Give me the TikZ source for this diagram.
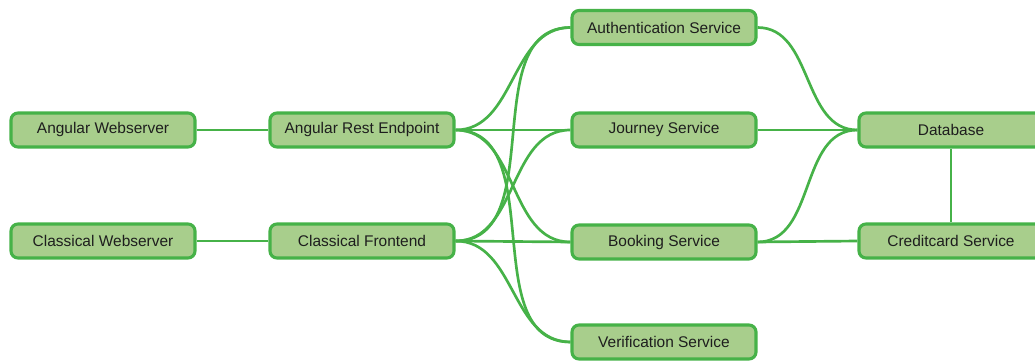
\documentclass[tikz,border=0pt]{standalone}
\usepackage{fontspec}
\setmainfont{Liberation Sans}
\definecolor{boxfill}{RGB}{168,206,140}
\definecolor{boxline}{RGB}{70,178,72}
\definecolor{txt}{RGB}{30,30,30}
\tikzset{
  svc/.style={draw=boxline, fill=boxfill, line width=2.2pt, rounded corners=5pt,
    minimum width=4.6cm, minimum height=0.85cm, inner sep=0pt,
    font=\fontsize{11pt}{13pt}\selectfont, text=txt},
  link/.style={draw=boxline, line width=1.9pt},
}
\begin{document}
\begin{tikzpicture}[x=0.025cm, y=-0.025cm]
\useasboundingbox (0,0) rectangle (1035,361);
\node[svc] (aw) at (103,130) {Angular Webserver};
\node[svc] (are) at (362,130) {Angular Rest Endpoint};
\node[svc] (cw) at (103,241) {Classical Webserver};
\node[svc] (cf) at (362,241) {Classical Frontend};
\node[svc] (auth) at (664,27.5) {Authentication Service};
\node[svc] (jour) at (664,130) {Journey Service};
\node[svc] (book) at (664,242) {Booking Service};
\node[svc] (ver) at (664,342) {Verification Service};
\node[svc] (db) at (951,130) {Database};
\node[svc] (cc) at (951,241) {Creditcard Service};
\draw[link] (aw.east) -- (are.west);
\draw[link] (cw.east) -- (cf.west);
\draw[link] (are.east) to[out=0,in=180] (auth.west);
\draw[link] (are.east) -- (jour.west);
\draw[link] (are.east) to[out=0,in=180] (book.west);
\draw[link] (are.east) to[out=0,in=180] (ver.west);
\draw[link] (cf.east) to[out=0,in=180] (auth.west);
\draw[link] (cf.east) to[out=0,in=180] (jour.west);
\draw[link] (cf.east) -- (book.west);
\draw[link] (cf.east) to[out=0,in=180] (ver.west);
\draw[link] (auth.east) to[out=0,in=180] (db.west);
\draw[link] (jour.east) -- (db.west);
\draw[link] (book.east) to[out=0,in=180] (db.west);
\draw[link] (book.east) -- (cc.west);
\draw[link] (db.south) -- (cc.north);
\end{tikzpicture}
\end{document}
